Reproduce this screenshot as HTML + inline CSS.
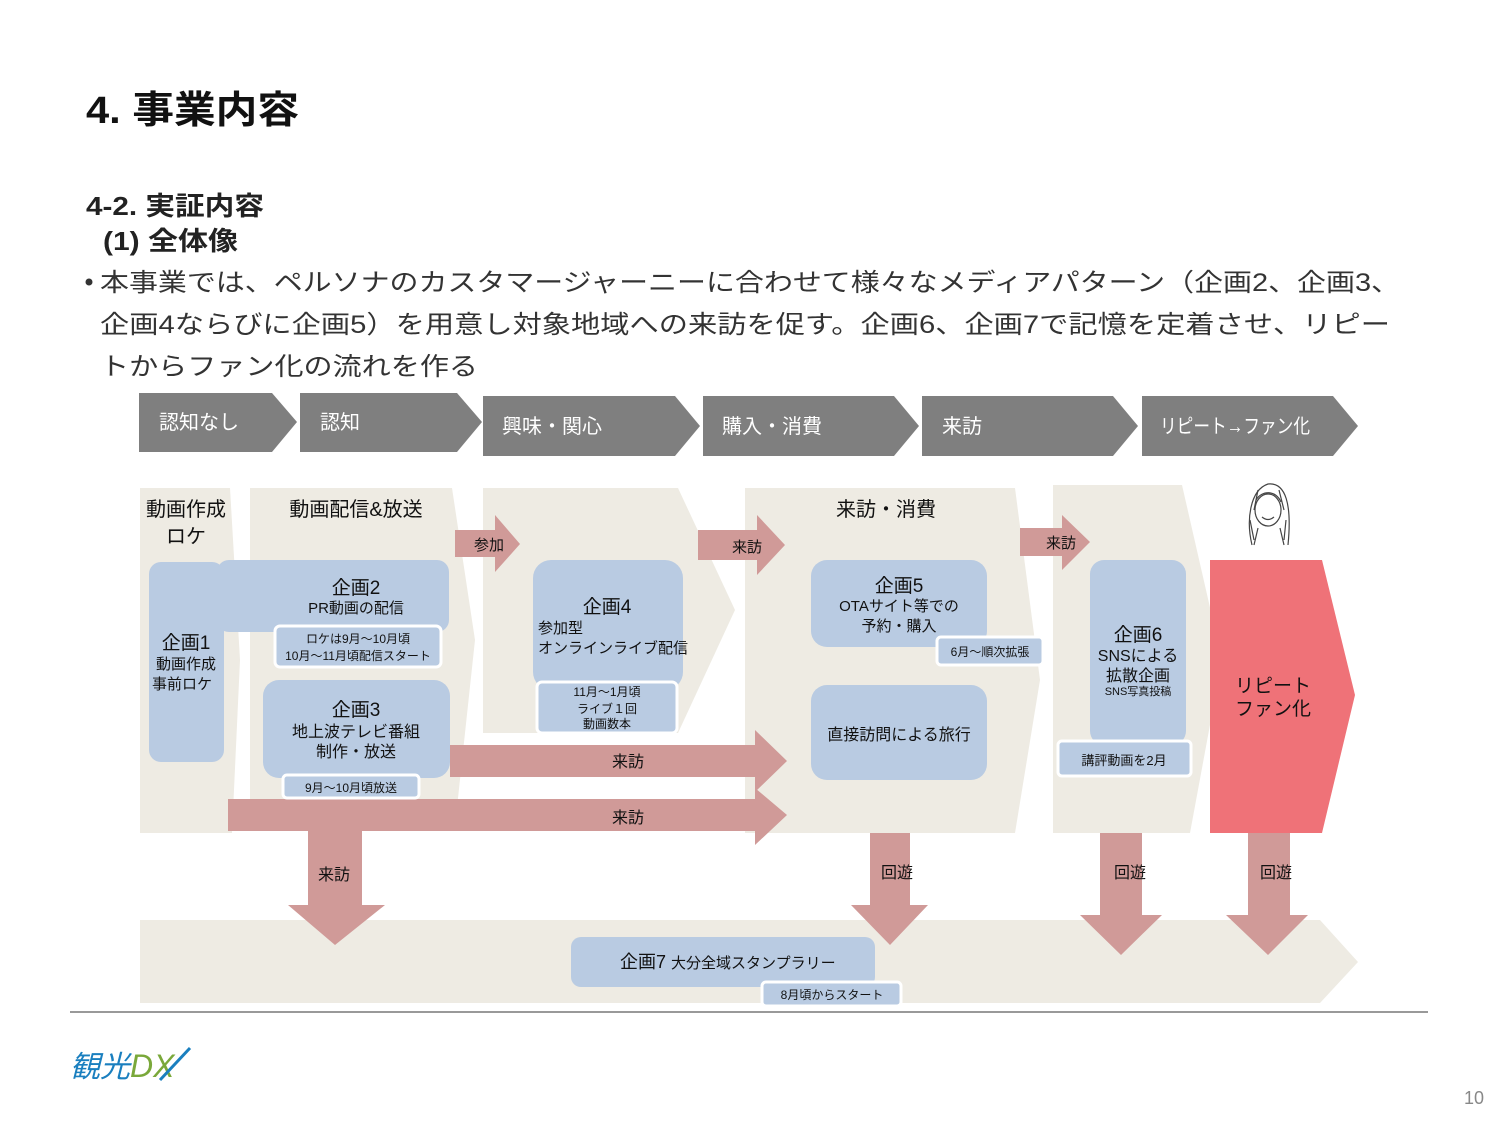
<!DOCTYPE html>
<html><head><meta charset="utf-8"><style>
html,body{margin:0;padding:0;background:#fff;}
svg{display:block;}
text{font-family:"Liberation Sans","Noto Sans CJK JP",sans-serif;}
</style></head><body>
<svg width="1500" height="1125" viewBox="0 0 1500 1125" xmlns="http://www.w3.org/2000/svg">
<!-- titles -->
<text x="86" y="123" font-size="38" font-weight="bold" fill="#111" textLength="213" lengthAdjust="spacingAndGlyphs">4. 事業内容</text>
<text x="86" y="215" font-size="26" font-weight="bold" fill="#222" textLength="178" lengthAdjust="spacingAndGlyphs">4-2. 実証内容</text>
<text x="103" y="250" font-size="26" font-weight="bold" fill="#222" textLength="135" lengthAdjust="spacingAndGlyphs">(1) 全体像</text>
<circle cx="89" cy="282" r="3.5" fill="#333"/>
<text x="100" y="291" font-size="25" fill="#333" textLength="1300" lengthAdjust="spacingAndGlyphs">本事業では、ペルソナのカスタマージャーニーに合わせて様々なメディアパターン（企画2、企画3、</text>
<text x="100" y="333" font-size="25" fill="#333" textLength="1290" lengthAdjust="spacingAndGlyphs">企画4ならびに企画5）を用意し対象地域への来訪を促す。企画6、企画7で記憶を定着させ、リピー</text>
<text x="100" y="375" font-size="25" fill="#333" textLength="378" lengthAdjust="spacingAndGlyphs">トからファン化の流れを作る</text>

<!-- header chevrons -->
<g fill="#7f7f7f">
<polygon points="139,393 272,393 297,422 272,452 139,452"/>
<polygon points="300,393 457,393 482,422 457,452 300,452"/>
<polygon points="483,396 675,396 700,426 675,456 483,456"/>
<polygon points="703,396 894,396 919,426 894,456 703,456"/>
<polygon points="922,396 1113,396 1138,426 1113,456 922,456"/>
<polygon points="1142,396 1333,396 1358,426 1333,456 1142,456"/>
</g>
<g fill="#fff" font-size="20">
<text x="159" y="429">認知なし</text>
<text x="320" y="429">認知</text>
<text x="502" y="433">興味・関心</text>
<text x="722" y="433">購入・消費</text>
<text x="942" y="433">来訪</text>
<text x="1160" y="433" textLength="150" lengthAdjust="spacingAndGlyphs">リピート→ファン化</text>
</g>

<!-- beige regions -->
<g fill="#eeebe3">
<polygon points="140,488 230,488 240,660 232,833 140,833"/>
<polygon points="250,488 452,488 475,640 455,826 250,826"/>
<polygon points="483,488 678,488 735,610 678,733 483,733"/>
<polygon points="745,488 1015,488 1040,680 1015,833 757,833 745,833"/>
<polygon points="1053,485 1182,485 1222,660 1190,833 1053,833"/>
<polygon points="140,920 1320,920 1358,962 1320,1003 140,1003"/>
</g>
<polygon points="1210,560 1322,560 1355,695 1322,833 1210,833" fill="#ef7278"/>

<!-- pink arrows -->
<g fill="#d09a98">
<polygon points="455,530 495,530 495,515 520,544 495,572 495,557 455,557"/>
<polygon points="698,530 757,530 757,515 785,545 757,575 757,560 698,560"/>
<polygon points="1020,528 1062,528 1062,515 1090,542 1062,570 1062,556 1020,556"/>
<polygon points="450,745 755,745 755,730 787,761 755,792 755,777 450,777"/>
<polygon points="228,799 755,799 755,788 787,815 755,845 755,831 228,831"/>
<polygon points="308,826 362,826 362,905 385,905 335,945 288,905 308,905"/>
<polygon points="870,833 910,833 910,905 928,905 890,945 851,905 870,905"/>
<polygon points="1100,833 1142,833 1142,915 1162,915 1121,955 1080,915 1100,915"/>
<polygon points="1248,833 1290,833 1290,915 1308,915 1268,955 1226,915 1248,915"/>
</g>

<!-- blue boxes -->
<g fill="#b9cbe2">
<rect x="149" y="562" width="75" height="200" rx="12"/>
<rect x="217" y="560" width="232" height="72" rx="12"/>
<rect x="263" y="680" width="187" height="98" rx="16"/>
<rect x="533" y="560" width="150" height="130" rx="18"/>
<rect x="811" y="560" width="176" height="87" rx="16"/>
<rect x="811" y="685" width="176" height="95" rx="16"/>
<rect x="1090" y="560" width="96" height="185" rx="14"/>
<rect x="571" y="937" width="304" height="50" rx="10"/>
</g>
<g fill="#b9cbe2" stroke="#fff" stroke-width="3">
<rect x="275" y="626" width="166" height="41" rx="5"/>
<rect x="283" y="775" width="136" height="23" rx="4"/>
<rect x="537" y="682" width="140" height="51" rx="5"/>
<rect x="937" y="637" width="106" height="28" rx="4"/>
<rect x="1058" y="741" width="133" height="35" rx="4"/>
<rect x="762" y="982" width="139" height="24" rx="4"/>
</g>

<!-- labels -->
<g fill="#111" font-size="20" text-anchor="middle">
<text x="186" y="516">動画作成</text>
<text x="186" y="543">ロケ</text>
<text x="356" y="516">動画配信&amp;放送</text>
<text x="886" y="516">来訪・消費</text>
</g>
<g fill="#111" text-anchor="middle">
<text x="356" y="594" font-size="19">企画2</text>
<text x="356" y="613" font-size="15">PR動画の配信</text>
<text x="358" y="643" font-size="12">ロケは9月～10月頃</text>
<text x="358" y="660" font-size="12">10月～11月頃配信スタート</text>
<text x="186" y="649" font-size="19">企画1</text>
<text x="186" y="669" font-size="15">動画作成</text>
<text x="182" y="689" font-size="15">事前ロケ</text>
<text x="356" y="716" font-size="19">企画3</text>
<text x="356" y="737" font-size="16">地上波テレビ番組</text>
<text x="356" y="757" font-size="16">制作・放送</text>
<text x="351" y="792" font-size="12">9月～10月頃放送</text>
<text x="607" y="613" font-size="19">企画4</text>
<text x="607" y="696" font-size="12">11月～1月頃</text>
<text x="607" y="713" font-size="12">ライブ１回</text>
<text x="607" y="728" font-size="12">動画数本</text>
<text x="899" y="592" font-size="19">企画5</text>
<text x="899" y="611" font-size="15">OTAサイト等での</text>
<text x="899" y="631" font-size="15">予約・購入</text>
<text x="990" y="656" font-size="12">6月～順次拡張</text>
<text x="899" y="740" font-size="16">直接訪問による旅行</text>
<text x="1138" y="641" font-size="19">企画6</text>
<text x="1138" y="661" font-size="16">SNSによる</text>
<text x="1138" y="681" font-size="16">拡散企画</text>
<text x="1138" y="695" font-size="11">SNS写真投稿</text>
<text x="1124" y="765" font-size="13">講評動画を2月</text>
<text x="1273" y="692" font-size="19">リピート</text>
<text x="1273" y="715" font-size="19">ファン化</text>
<text x="832" y="999" font-size="12">8月頃からスタート</text>
<text x="628" y="767" font-size="16">来訪</text>
<text x="628" y="823" font-size="16">来訪</text>
<text x="334" y="880" font-size="16">来訪</text>
<text x="897" y="878" font-size="16">回遊</text>
<text x="1130" y="878" font-size="16">回遊</text>
<text x="1276" y="878" font-size="16">回遊</text>
</g>
<g fill="#111" font-size="15">
<text x="538" y="633">参加型</text>
<text x="538" y="653">オンラインライブ配信</text>
<text x="474" y="550">参加</text>
<text x="732" y="552">来訪</text>
<text x="1046" y="548">来訪</text>
<text x="620" y="968" font-size="18">企画7 <tspan font-size="15">大分全域スタンプラリー</tspan></text>
</g>

<!-- person sketch -->
<g fill="none" stroke="#444" stroke-width="1.2">
<path d="M1252,545 C1246,520 1250,490 1268,484 C1286,482 1292,505 1288,545"/>
<ellipse cx="1268" cy="510" rx="13" ry="16" fill="#fff"/>
<path d="M1256,500 C1262,490 1276,490 1281,502"/>
<path d="M1262,517 Q1268,522 1274,517"/>
<path d="M1254,545 L1258,528 M1284,545 L1280,528"/>
<path d="M1250,520 L1254,540 M1286,520 L1284,540 M1258,490 L1254,510 M1279,490 L1284,510"/>
</g>

<!-- footer -->
<line x1="70" y1="1012" x2="1428" y2="1012" stroke="#999" stroke-width="2"/>
<text x="70" y="1077" font-size="30" fill="#1a7fbf" font-style="italic">観光</text>
<text x="130" y="1077" font-size="32" fill="#7aa83a" font-style="italic">DX</text>
<line x1="160" y1="1080" x2="190" y2="1048" stroke="#1a7fbf" stroke-width="3"/>
<text x="1484" y="1104" font-size="18" fill="#888" text-anchor="end">10</text>
</svg>
</body></html>
